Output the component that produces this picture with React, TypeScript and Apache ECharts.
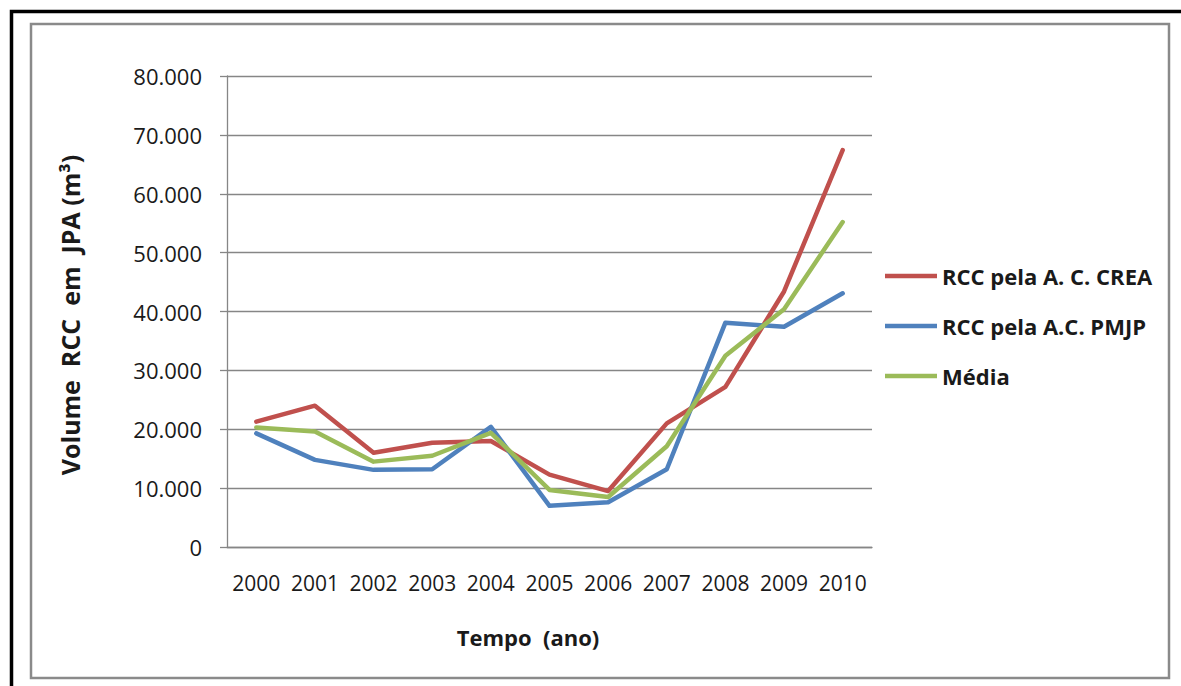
import React, { useEffect, useRef } from "react";
import * as echarts from "echarts";

const years = ["2000", "2001", "2002", "2003", "2004", "2005", "2006", "2007", "2008", "2009", "2010"];
const crea = [21300, 24000, 16000, 17700, 18000, 12300, 9500, 21000, 27200, 43400, 67400];
const pmjp = [19300, 14800, 13100, 13200, 20400, 7000, 7600, 13200, 38100, 37400, 43100];
const media = [20300, 19600, 14500, 15500, 19400, 9700, 8500, 17100, 32500, 40400, 55200];
const seriesNames = ["RCC pela A. C. CREA", "RCC pela A.C. PMJP", "Média"];
const seriesColors = ["#C0504D", "#4F81BD", "#9BBB59"];
const yTitle = "Volume  RCC  em  JPA (m³)";
const xTitle = "Tempo  (ano)";

const FONT = "Open Sans";

function fmt(v: number): string {
  if (v === 0) return "0";
  const s = String(Math.round(v));
  return s.replace(/\B(?=(\d{3})+(?!\d))/g, ".");
}

export default function App() {
  const ref = useRef<HTMLDivElement>(null);
  useEffect(() => {
    if (!ref.current) return;
    const chart = echarts.init(ref.current, undefined, { renderer: "svg" });
    const data = [crea, pmjp, media];
    chart.setOption({
      animation: false,
      backgroundColor: "#ffffff",
      grid: { left: 227, right: 309, top: 76, bottom: 139, containLabel: false },
      legend: {
        orient: "vertical",
        left: 880,
        top: 260,
        icon: "rect",
        itemWidth: 52,
        itemHeight: 4.5,
        itemGap: 28,
        data: seriesNames,
        textStyle: { fontFamily: FONT, fontWeight: "bold", fontSize: 22, color: "#1a1a1a" },
      },
      xAxis: {
        type: "category",
        data: years,
        boundaryGap: true,
        axisLine: { show: true, lineStyle: { color: "#868686", width: 1.3 } },
        axisTick: { show: false },
        axisLabel: { fontFamily: FONT, fontSize: 21, color: "#1a1a1a", margin: 25, interval: 0 },
      },
      yAxis: {
        type: "value",
        min: 0,
        max: 80000,
        interval: 10000,
        axisLine: { show: true, lineStyle: { color: "#868686", width: 1.3 } },
        axisTick: { show: true, length: 7, lineStyle: { color: "#868686", width: 1.3 } },
        splitLine: { show: true, lineStyle: { color: "#868686", width: 1.3 } },
        axisLabel: { fontFamily: FONT, fontSize: 22, color: "#1a1a1a", margin: 25, formatter: (v: number) => fmt(v) },
      },
      series: seriesNames.map((name, i) => ({
        name,
        type: "line",
        data: data[i],
        symbol: "none",
        showSymbol: false,
        color: seriesColors[i],
        lineStyle: { color: seriesColors[i], width: 4.5, cap: "round", join: "round" },
      })),
      graphic: [
        {
          type: "rect",
          shape: { x: 11.5, y: 11.5, width: 1250, height: 750 },
          style: { fill: "none", stroke: "#000000", lineWidth: 3.5 },
          silent: true,
        },
        {
          type: "rect",
          shape: { x: 31, y: 24, width: 1138, height: 654 },
          style: { fill: "none", stroke: "#8a8a8a", lineWidth: 2.5 },
          silent: true,
        },
        {
          type: "text",
          x: 70,
          y: 315,
          rotation: Math.PI / 2,
          style: {
            text: yTitle,
            fontFamily: FONT,
            fontWeight: "bold",
            fontSize: 25,
            fill: "#1a1a1a",
            align: "center",
            verticalAlign: "middle",
          },
        },
        {
          type: "text",
          x: 528,
          y: 637,
          style: {
            text: xTitle,
            fontFamily: FONT,
            fontWeight: "bold",
            fontSize: 22,
            fill: "#1a1a1a",
            align: "center",
            verticalAlign: "middle",
          },
        },
      ],
    });
    return () => chart.dispose();
  }, []);
  return <div ref={ref} style={{ position: "fixed", left: 0, top: 0, width: 1181, height: 686 }} />;
}
